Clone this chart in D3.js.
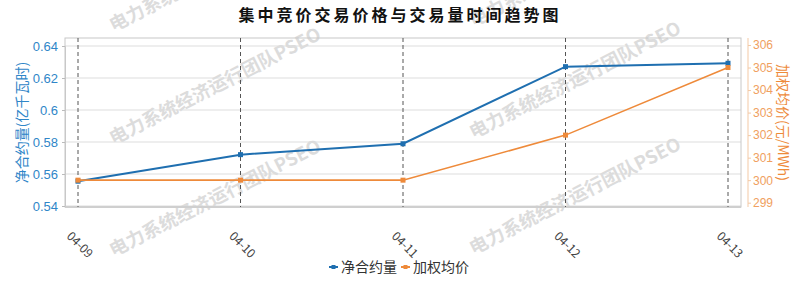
<!DOCTYPE html>
<html lang="zh">
<head>
    <meta charset="UTF-8">
    <title>集中竞价交易价格与交易量时间趋势图</title>
    <script src="https://cdn.jsdelivr.net/npm/d3@7"></script>
    <style>
        body { margin: 0; background: #fff; }
        svg { font-family: "Noto Sans CJK SC", "Noto Sans", sans-serif; display: block; }
    </style>
</head>
<body>
<script>

    // data
    var dates = ["04-09", "04-10", "04-11", "04-12", "04-13"];
    var volume = [0.5555, 0.5721, 0.5789, 0.6271, 0.6292];   // 净合约量 (亿千瓦时)
    var price = [300, 300, 300, 302, 305];                    // 加权均价 (元/MWh)
    var volumeTicks = [0.54, 0.56, 0.58, 0.6, 0.62, 0.64];
    var priceTicks = [299, 300, 301, 302, 303, 304, 305, 306];
    var seriesNames = ["净合约量", "加权均价"];

    var width = 800, height = 281;
    var plot = {left: 65, right: 741, top: 38, bottom: 207};
    var blue = "#1f6fb0", orange = "#ee8a3a";

    var svg = d3.select("body").append("svg")
        .attr("width", width)
        .attr("height", height);

    var x = d3.scalePoint()
        .domain(dates)
        .range([plot.left, plot.right])
        .padding(0.08);

    var yLeft = d3.scaleLinear().domain([0.54, 0.64]).range([206, 46]);
    var yRight = d3.scaleLinear().domain([299, 306]).range([202.7, 45]);

    // watermark
    var marks = [[215, -27], [575, -32], [215, 86], [575, 80], [215, 198], [575, 196]];
    svg.append("g").selectAll("text")
        .data(marks)
        .enter().append("text")
        .attr("transform", function(d) { return "translate(" + d[0] + "," + d[1] + ") rotate(-27)"; })
        .attr("text-anchor", "middle")
        .attr("dy", "0.35em")
        .style("font-size", "18.5px")
        .style("font-weight", "bold")
        .style("fill", "#dcdcdc")
        .text("电力系统经济运行团队PSEO");

    // grid
    svg.append("g").selectAll("line")
        .data(volumeTicks)
        .enter().append("line")
        .attr("x1", plot.left).attr("x2", plot.right)
        .attr("y1", function(d) { return yLeft(d); })
        .attr("y2", function(d) { return yLeft(d); })
        .style("stroke", "#dddddd")
        .style("stroke-width", 1);

    // frame
    svg.append("rect")
        .attr("x", plot.left).attr("y", plot.top)
        .attr("width", plot.right - plot.left)
        .attr("height", plot.bottom - plot.top)
        .style("fill", "none")
        .style("stroke", "#c8c8c8");
    svg.append("line")
        .attr("x1", plot.left).attr("x2", plot.right)
        .attr("y1", plot.bottom).attr("y2", plot.bottom)
        .style("stroke", "#cfcfcf")
        .style("stroke-width", 2);

    // dashed verticals
    svg.append("g").selectAll("line")
        .data(dates)
        .enter().append("line")
        .attr("x1", function(d) { return x(d); })
        .attr("x2", function(d) { return x(d); })
        .attr("y1", plot.top).attr("y2", plot.bottom)
        .style("stroke", "#555")
        .style("stroke-width", 1)
        .style("stroke-dasharray", "4,3");

    // left axis
    var leftAxis = svg.append("g")
        .attr("transform", "translate(" + plot.left + ",0)")
        .call(d3.axisLeft(yLeft).tickValues(volumeTicks).tickSize(3).tickPadding(4)
            .tickFormat(function(d) { return String(d); }));
    leftAxis.select(".domain").style("stroke", "#c8c8c8");
    leftAxis.selectAll(".tick line").style("stroke", "#bbb");
    leftAxis.selectAll("text").style("fill", "#2f86c8").style("font-size", "13px");

    // right axis
    var rightAxis = svg.append("g")
        .attr("transform", "translate(748,0)")
        .call(d3.axisRight(yRight).tickValues(priceTicks).tickSize(3).tickPadding(2)
            .tickFormat(d3.format("d")));
    rightAxis.select(".domain").attr("d", "M0," + plot.top + "V" + plot.bottom).style("stroke", "#f3c9a5");
    rightAxis.selectAll(".tick line").style("stroke", "#f3c9a5");
    rightAxis.selectAll("text").style("fill", "#f0a060").style("font-size", "12px");

    // x labels
    svg.append("g").selectAll("text")
        .data(dates)
        .enter().append("text")
        .attr("transform", function(d) { return "translate(" + (x(d) - 9) + ",234) rotate(45)"; })
        .attr("dy", "0.35em")
        .style("font-size", "12px")
        .style("fill", "#444")
        .text(function(d) { return d; });

    // lines
    var series = [
        {values: volume, y: yLeft, color: blue, width: 2},
        {values: price, y: yRight, color: orange, width: 1.6}
    ];
    series.forEach(function(s) {
        var line = d3.line()
            .x(function(d, i) { return x(dates[i]); })
            .y(function(d) { return s.y(d); });
        svg.append("path")
            .datum(s.values)
            .attr("d", line)
            .style("fill", "none")
            .style("stroke", s.color)
            .style("stroke-width", s.width);
        svg.append("g").selectAll("rect")
            .data(s.values)
            .enter().append("rect")
            .attr("x", function(d, i) { return x(dates[i]) - 2.5; })
            .attr("y", function(d) { return s.y(d) - 2.5; })
            .attr("width", 5).attr("height", 5)
            .style("fill", s.color);
    });

    // axis titles
    svg.append("text")
        .attr("transform", "translate(22," + ((plot.top + plot.bottom) / 2) + ") rotate(-90)")
        .attr("text-anchor", "middle")
        .attr("dy", "0.35em")
        .style("font-size", "14px")
        .style("fill", "#2f86c8")
        .text("净合约量(亿千瓦时)");
    svg.append("text")
        .attr("transform", "translate(783," + ((plot.top + plot.bottom) / 2) + ") rotate(90)")
        .attr("text-anchor", "middle")
        .attr("dy", "0.35em")
        .style("font-size", "14px")
        .style("fill", "#ee8a3a")
        .text("加权均价(元/MWh)");

    // title
    svg.append("text")
        .attr("x", 400).attr("y", 15)
        .attr("text-anchor", "middle")
        .attr("dy", "0.35em")
        .style("font-size", "16px")
        .style("font-weight", "bold")
        .style("letter-spacing", "3px")
        .style("fill", "#111")
        .text("集中竞价交易价格与交易量时间趋势图");

    // legend
    var legend = svg.append("g").selectAll("g")
        .data(seriesNames)
        .enter().append("g")
        .attr("transform", function(d, i) { return "translate(" + (329 + i * 72) + ",267)"; });
    legend.append("line")
        .attr("x1", 0).attr("x2", 9).attr("y1", 0).attr("y2", 0)
        .style("stroke", function(d, i) { return i ? orange : blue; })
        .style("stroke-width", 2);
    legend.append("rect")
        .attr("x", 2.5).attr("y", -2).attr("width", 4).attr("height", 4)
        .style("fill", function(d, i) { return i ? orange : blue; });
    legend.append("text")
        .attr("x", 12)
        .attr("dy", "0.35em")
        .style("font-size", "14px")
        .style("fill", "#333")
        .text(function(d) { return d; });

</script>
</body>
</html>
